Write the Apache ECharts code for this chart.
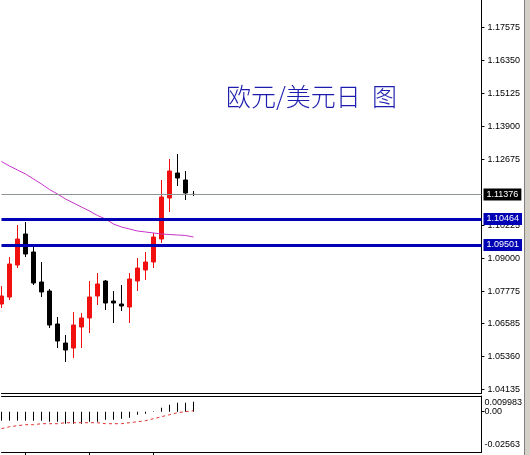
<!DOCTYPE html>
<html><head><meta charset="utf-8">
<script src="https://cdn.jsdelivr.net/npm/echarts@6/dist/echarts.min.js"></script>
<style>html,body{margin:0;padding:0;background:#fff;overflow:hidden}#c{width:530px;height:455px}</style>
</head><body><div id="c"></div>
<script>
// ---- data ----
const titleText = '欧元/美元日  图';
// daily candles: [open, close, low, high]
const candles = [
  [1.07304, 1.07602, 1.07155, 1.07973],
  [1.07564, 1.08791, 1.07453, 1.09051],
  [1.08754, 1.09720, 1.08642, 1.10241],
  [1.09906, 1.09163, 1.09051, 1.10352],
  [1.09237, 1.08085, 1.08010, 1.09460],
  [1.08122, 1.07750, 1.07564, 1.08865],
  [1.07787, 1.06523, 1.06412, 1.07862],
  [1.06561, 1.05929, 1.05668, 1.06821],
  [1.05854, 1.05594, 1.05148, 1.06152],
  [1.05668, 1.06523, 1.05297, 1.07007],
  [1.06449, 1.06784, 1.05668, 1.06970],
  [1.06784, 1.07564, 1.06226, 1.08159],
  [1.07602, 1.08048, 1.07267, 1.08457],
  [1.08159, 1.07341, 1.07081, 1.08196],
  [1.07416, 1.07341, 1.06598, 1.07787],
  [1.07304, 1.07230, 1.07044, 1.08010],
  [1.07193, 1.08233, 1.06598, 1.08457],
  [1.08159, 1.08642, 1.07787, 1.09014],
  [1.08568, 1.08865, 1.08196, 1.09237],
  [1.08865, 1.09795, 1.08642, 1.09944],
  [1.09720, 1.11282, 1.09572, 1.11914],
  [1.11245, 1.12248, 1.10724, 1.12695],
  [1.12174, 1.11988, 1.11691, 1.12880],
  [1.11914, 1.11431, 1.11170, 1.12248],
  [1.11380, 1.11376, 1.11319, 1.11505]
];
const maValues = [1.12602, 1.12434, 1.12286, 1.12137, 1.11951, 1.11765, 1.11561, 1.11393,
  1.11208, 1.11059, 1.10910, 1.10761, 1.10594, 1.10464, 1.10278, 1.10167, 1.10092, 1.10018,
  1.09981, 1.09944, 1.09906, 1.09888, 1.09869, 1.09851, 1.09795];
const macdHist = [-0.00572, -0.00572, -0.00572, -0.00572, -0.00572, -0.00572, -0.00636, -0.00636,
  -0.00763, -0.00763, -0.00763, -0.00636, -0.00636, -0.00509, -0.00509, -0.00445, -0.00382,
  -0.00191, -0.00127, 0.00032, 0.00254, 0.00445, 0.00572, 0.00572, 0.00636];
const macdSignal = [-0.01081, -0.00954, -0.00890, -0.00827, -0.00827, -0.00763, -0.00763, -0.00763,
  -0.00700, -0.00700, -0.00700, -0.00700, -0.00700, -0.00763, -0.00763, -0.00763, -0.00700,
  -0.00636, -0.00572, -0.00445, -0.00318, -0.00191, -0.00064, 0.00000, 0.00064];
const lastPrice = 1.11376;
const levelLines = [1.10464, 1.09501];
const priceTicks = [1.17575, 1.16350, 1.15125, 1.13900, 1.12675, 1.10225, 1.09000, 1.07775, 1.06585, 1.05360, 1.04135];
const macdTickValues = [0.009983, 0, -0.02563];
const macdTickLabels = ['0.009983', '0.00', '-0.02563'];
const timeTickIndex = [3, 11, 19];
const categories = Array.from({length: 61}, (_, i) => 'D' + (i + 1));

// ---- chart ----
const LABEL_FONT = 'Liberation Sans';
const chart = echarts.init(document.getElementById('c'), null, {renderer: 'canvas'});
const axisBlack = {color: '#000', width: 1};

chart.setOption({
  animation: false,
  backgroundColor: '#fff',
  title: {
    text: titleText, left: 221, top: 79,
    textStyle: {fontFamily: 'Noto Sans CJK SC', fontSize: 25, fontWeight: 300, color: '#1c1cae'}
  },
  grid: [
    {left: 1.5, width: 480, top: 0, height: 393},
    {left: 1.5, width: 480, top: 396, height: 56}
  ],
  xAxis: [
    {gridIndex: 0, type: 'category', data: categories, boundaryGap: false,
      axisLine: {show: true, onZero: false, lineStyle: axisBlack}, axisTick: {show: false},
      axisLabel: {show: false}, splitLine: {show: false}},
    {gridIndex: 1, type: 'category', data: categories, boundaryGap: false, position: 'bottom',
      axisLine: {show: true, onZero: false, lineStyle: axisBlack},
      axisTick: {show: true, length: 3, lineStyle: {color: '#000'}, interval: (i) => timeTickIndex.indexOf(i) >= 0},
      axisLabel: {show: false}, splitLine: {show: false}},
    {gridIndex: 1, type: 'category', data: categories, boundaryGap: false, position: 'top',
      axisLine: {show: true, onZero: false, lineStyle: axisBlack}, axisTick: {show: false},
      axisLabel: {show: false}, splitLine: {show: false}}
  ],
  yAxis: [
    {gridIndex: 0, type: 'value', position: 'right', min: 1.03996, max: 1.18605,
      axisLine: {show: true, lineStyle: axisBlack},
      axisTick: {show: true, length: 3, lineStyle: {color: '#000'}, customValues: priceTicks},
      axisLabel: {customValues: priceTicks, formatter: (v) => v.toFixed(5), color: '#000',
        fontSize: 9, fontFamily: LABEL_FONT, margin: 6},
      splitLine: {show: false}},
    {gridIndex: 1, type: 'value', position: 'right', min: -0.02563, max: 0.009983,
      axisLine: {show: true, lineStyle: axisBlack},
      axisTick: {show: true, length: 3, lineStyle: {color: '#000'}, customValues: [0]},
      axisLabel: {customValues: macdTickValues, showMinLabel: true, showMaxLabel: true,
        color: '#000', fontSize: 9, fontFamily: LABEL_FONT, margin: 3,
        formatter: (v) => {
          let k = 0;
          macdTickValues.forEach((t, j) => { if (Math.abs(t - v) < Math.abs(macdTickValues[k] - v)) k = j; });
          if (k === 0) return '{hi|' + macdTickLabels[k] + '}';
          if (k === macdTickValues.length - 1) return '{lo|' + macdTickLabels[k] + '}';
          return macdTickLabels[k];
        },
        rich: {
          hi: {fontSize: 9, fontFamily: LABEL_FONT, color: '#000', padding: [13, 0, 0, 0]},
          lo: {fontSize: 9, fontFamily: LABEL_FONT, color: '#000', padding: [0, 0, 14, 0]}
        }},
      splitLine: {show: false}}
  ],
  series: [
    {type: 'candlestick', xAxisIndex: 0, yAxisIndex: 0, data: candles, barWidth: 5,
      itemStyle: {color: '#f01010', color0: '#000', borderColor: '#f01010', borderColor0: '#000', borderWidth: 1},
      markLine: {
        symbol: 'none', silent: true, animation: false, precision: 5,
        label: {show: true, position: 'end', distance: 2, color: '#fff', fontSize: 9, fontFamily: LABEL_FONT,
          padding: [2, 3, 1, 3], formatter: (p) => Number(p.value).toFixed(5)},
        data: [
          {yAxis: lastPrice, lineStyle: {color: '#8c9494', width: 1, type: 'solid'}, label: {backgroundColor: '#000'}},
          ...levelLines.map(v => ({yAxis: v, lineStyle: {color: '#0000b4', width: 3, type: 'solid'},
            label: {backgroundColor: '#0000b4'}}))
        ]
      }},
    {type: 'line', xAxisIndex: 0, yAxisIndex: 0, data: maValues, symbol: 'none', z: 3,
      lineStyle: {color: '#c832c8', width: 1}},
    {type: 'bar', xAxisIndex: 1, yAxisIndex: 1, data: macdHist, barWidth: 1, itemStyle: {color: '#000'}},
    {type: 'line', xAxisIndex: 1, yAxisIndex: 1, data: macdSignal, symbol: 'none',
      lineStyle: {color: '#e03030', width: 1, type: [3, 3]}}
  ],
  graphic: [
    {type: 'rect', shape: {x: 524, y: 0, width: 6, height: 455}, style: {fill: '#d4d0c8'}, silent: true},
    {type: 'line', shape: {x1: 524.5, y1: 0, x2: 524.5, y2: 455}, style: {stroke: '#808080', lineWidth: 1}, silent: true}
  ]
});
</script></body></html>
